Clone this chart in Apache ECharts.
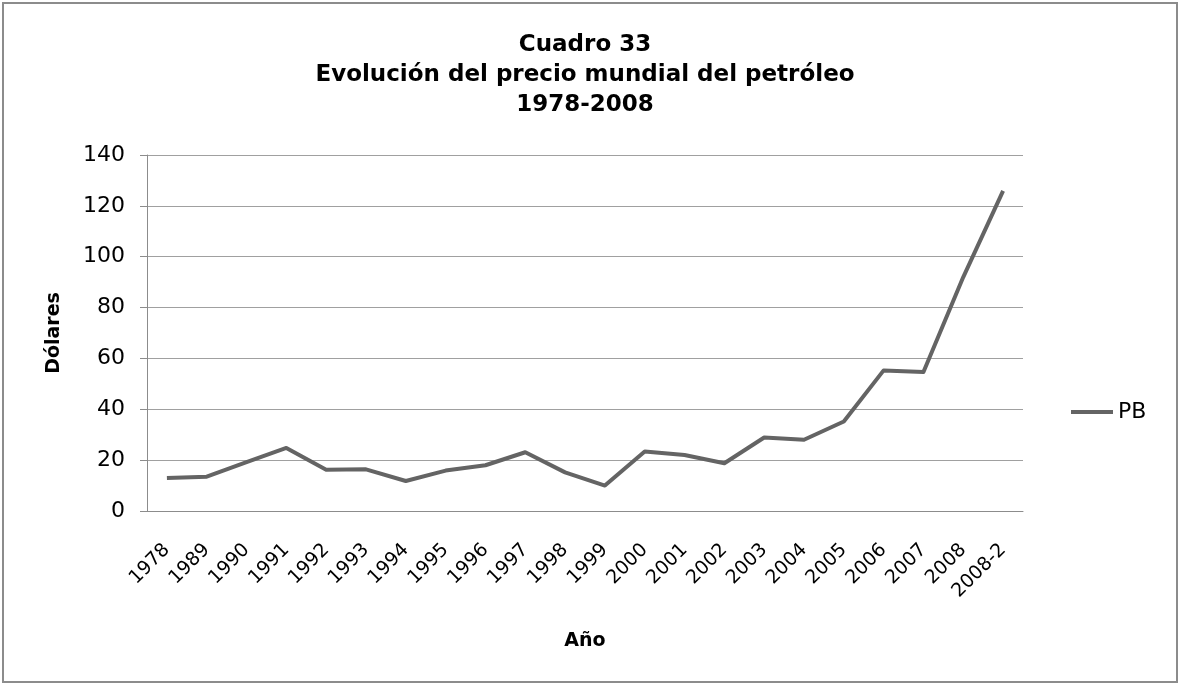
<!DOCTYPE html>
<html>
<head>
<meta charset="utf-8">
<script src="https://cdn.jsdelivr.net/npm/echarts@6/dist/echarts.min.js"></script>
<style>
  body { margin: 0; background: #fff; }
  #chart { position: absolute; left: 0; top: 0; width: 1180px; height: 685px; }
  .frame {
    position: absolute; left: 2px; top: 2px; width: 1172px; height: 677px;
    border: 2px solid #8c8c8c; pointer-events: none;
  }
</style>
</head>
<body>
<div id="chart"></div>
<div class="frame"></div>
<script>
// años (categorías del eje X)
const years = ['1978', '1989', '1990', '1991', '1992', '1993', '1994', '1995', '1996', '1997', '1998',
  '1999', '2000', '2001', '2002', '2003', '2004', '2005', '2006', '2007', '2008', '2008-2']
// precio en dólares
const pbValues = [13, 13.5, 19.2, 24.8, 16.2, 16.4, 11.8, 15.9, 18, 23.1, 15.2,
  10, 23.4, 22, 18.8, 28.9, 28, 35.2, 55.3, 54.7, 92, 125.9]
const seriesName = 'PB'

const font = '"DejaVu Sans", Verdana, sans-serif'
const myChart = echarts.init(document.getElementById('chart'))

myChart.setOption({
  animation: false,
  backgroundColor: '#fff',
  title: {
    text: 'Cuadro 33\nEvolución del precio mundial del petróleo\n1978-2008',
    left: 585,
    top: 30,
    padding: 0,
    textAlign: 'center',
    textStyle: {
      fontFamily: font,
      fontSize: 23,
      fontWeight: 'bold',
      lineHeight: 30,
      color: '#000'
    }
  },
  legend: {
    data: [seriesName],
    icon: 'rect',
    left: 1066,
    top: 396,
    itemWidth: 42,
    itemHeight: 4,
    itemGap: 8,
    textStyle: { fontFamily: font, fontSize: 22, color: '#000' }
  },
  grid: {
    left: 147,
    right: 157,
    top: 155,
    bottom: 174,
    containLabel: false
  },
  xAxis: {
    type: 'category',
    data: years,
    boundaryGap: true,
    name: 'Año',
    nameLocation: 'middle',
    nameGap: 121,
    nameTextStyle: { fontFamily: font, fontSize: 19, fontWeight: 'bold', color: '#000' },
    axisLine: { show: true, lineStyle: { color: '#8c8c8c', width: 1 } },
    axisTick: { show: false },
    axisLabel: {
      rotate: 45,
      margin: 36,
      interval: 0,
      fontFamily: font,
      fontSize: 19,
      color: '#000'
    },
    splitLine: { show: false }
  },
  yAxis: {
    type: 'value',
    min: 0,
    max: 140,
    interval: 20,
    name: 'Dólares',
    nameLocation: 'middle',
    nameGap: 83,
    nameRotate: 90,
    nameTextStyle: { fontFamily: font, fontSize: 19, fontWeight: 'bold', color: '#000' },
    axisLine: { show: true, lineStyle: { color: '#8c8c8c', width: 1 } },
    axisTick: { show: true, inside: false, length: 7, lineStyle: { color: '#8c8c8c' } },
    axisLabel: {
      margin: 22,
      fontFamily: font,
      fontSize: 22,
      color: '#000'
    },
    splitLine: { show: true, lineStyle: { color: '#a0a0a0', width: 1 } }
  },
  series: [
    {
      name: seriesName,
      type: 'line',
      data: pbValues,
      symbol: 'none',
      lineStyle: { color: '#646464', width: 4, join: 'round' },
      itemStyle: { color: '#646464' }
    }
  ]
})
</script>
</body>
</html>
